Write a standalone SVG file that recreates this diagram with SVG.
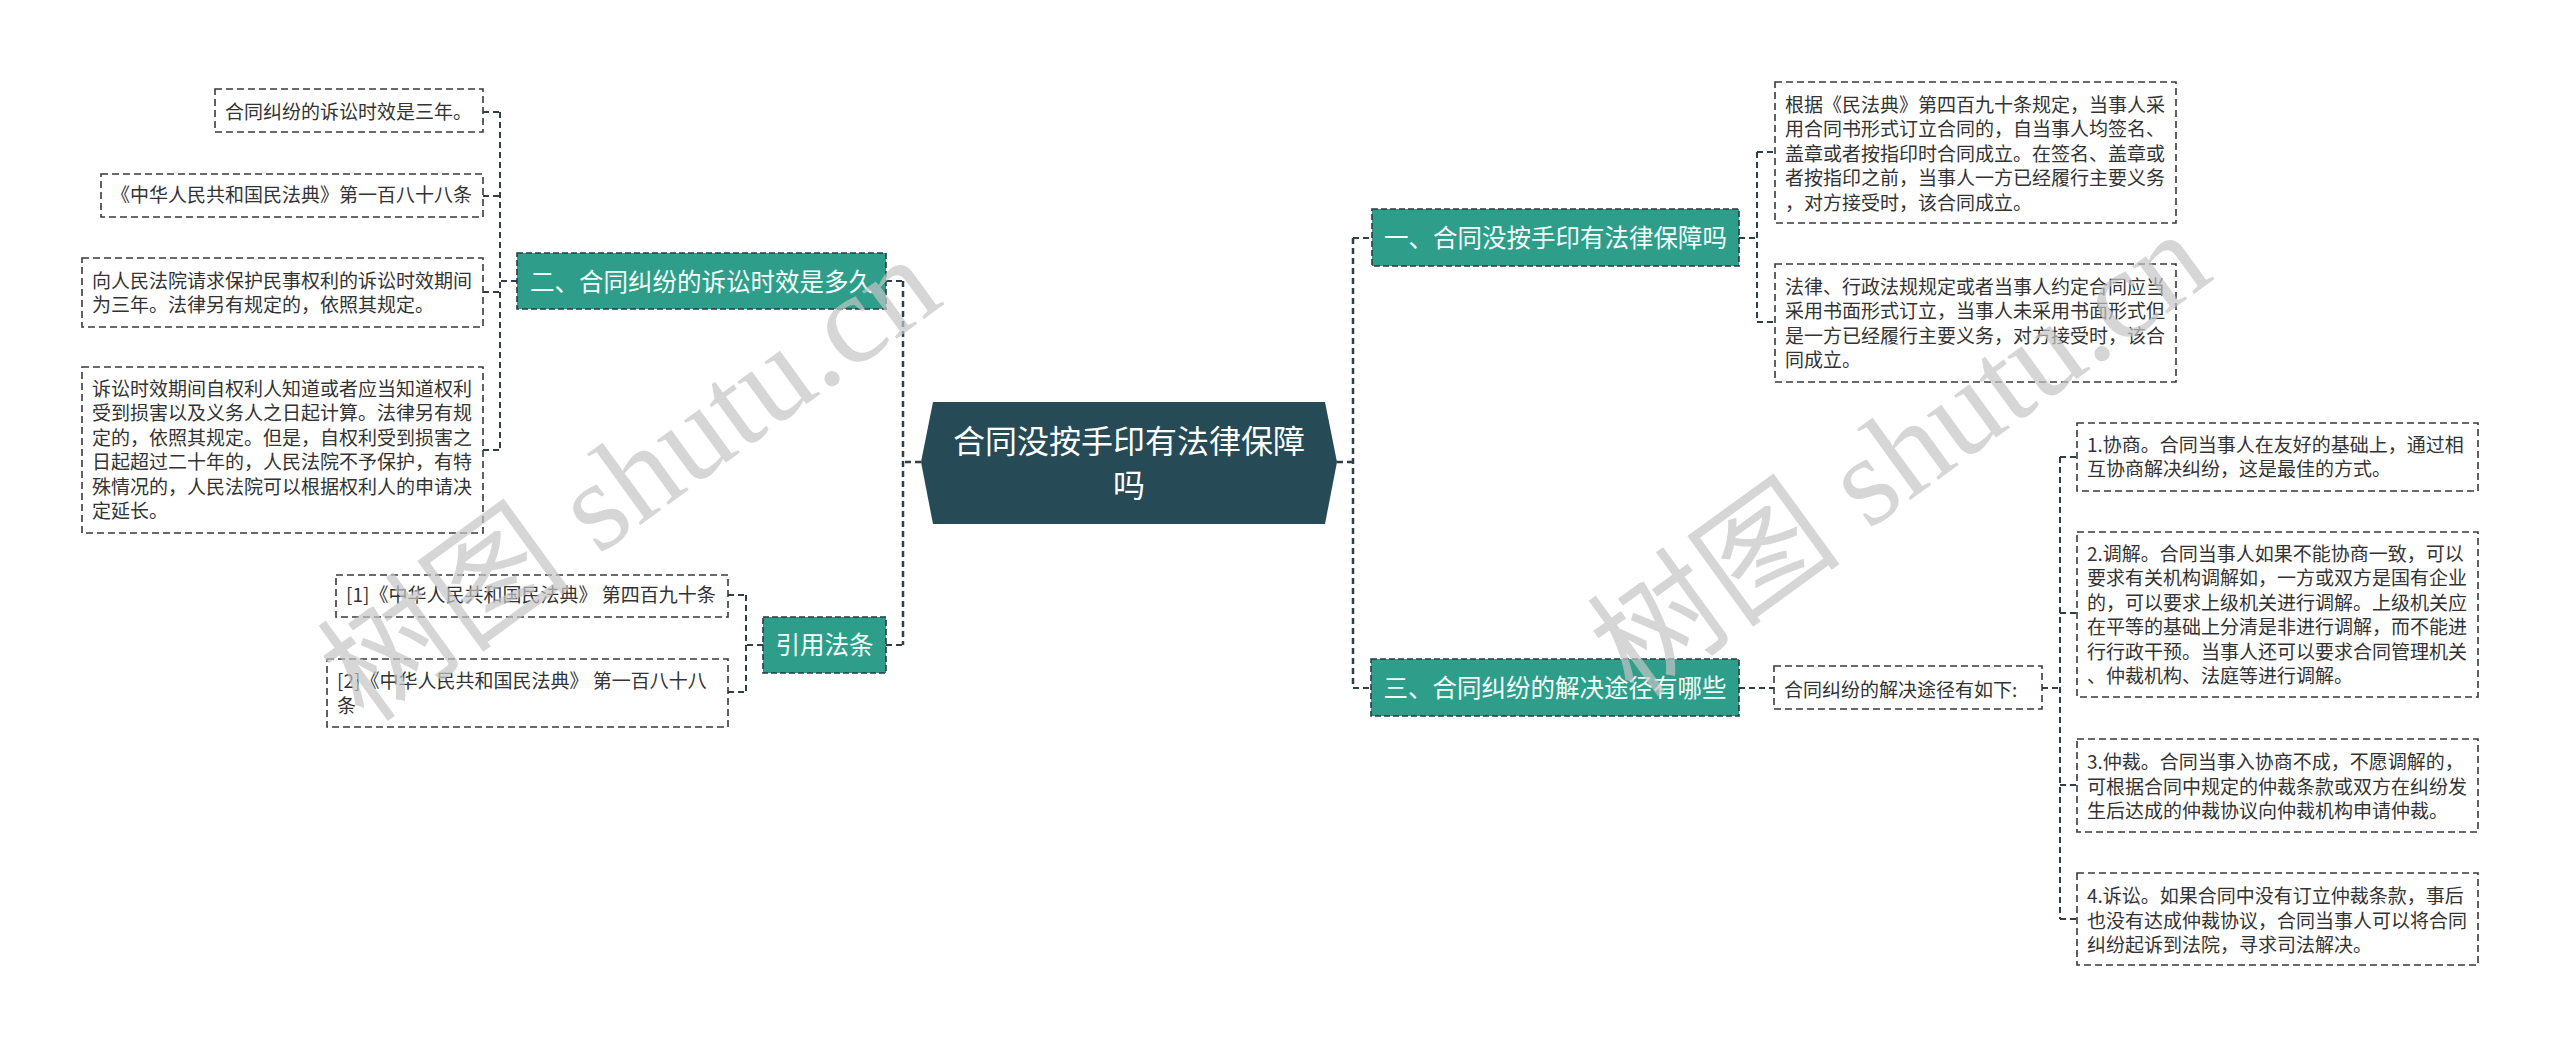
<svg xmlns="http://www.w3.org/2000/svg" width="2560" height="1047" viewBox="0 0 2560 1047">
<style>
.bg{fill:#ffffff}
.conn{fill:none;stroke:#2e3f47;stroke-width:2;stroke-dasharray:6 4}
.trunk{fill:none;stroke:#2e3f47;stroke-width:2.5;stroke-dasharray:6 4}
.leaf{fill:#ffffff;stroke:#3a3a3a;stroke-width:1.6;stroke-dasharray:7 4}
.branch{fill:#2e9e8a;stroke:#2b3a40;stroke-width:1.6;stroke-dasharray:6 3}
.center{fill:#274a57}
.lt{font-family:"Noto Sans CJK SC","Noto Sans",sans-serif;font-size:19px;fill:#333333}
.bt{font-family:"Noto Sans CJK SC","Noto Sans",sans-serif;font-size:24.5px;fill:#f4fffb;text-anchor:middle}
.ct{font-family:"Noto Sans CJK SC","Noto Sans",sans-serif;font-size:32px;fill:#ffffff;text-anchor:middle}
.wm{font-family:"Liberation Serif","Noto Sans CJK SC",serif;font-size:128px;fill:#c4c4c4;fill-opacity:0.7}
</style>
<rect class="bg" x="0" y="0" width="2560" height="1047"/>

<g id="connectors">
  <path class="trunk" d="M921 462 H903 M903 281 V645"/>
  <path class="conn" d="M886 281 H903 M886 645 H903"/>
  <path class="conn" d="M517 281 H500 M500 112 V450 M483 112 H500 M483 196 H500 M483 292 H500 M483 450 H500"/>
  <path class="conn" d="M763 645 H746 M746 595 V692 M728 595 H746 M728 692 H746"/>
  <path class="trunk" d="M1337 462 H1353 M1353 238 V688"/>
  <path class="conn" d="M1353 238 H1372 M1353 688 H1371"/>
  <path class="conn" d="M1739 238 H1757 M1757 152 V322 M1757 152 H1775 M1757 322 H1775"/>
  <path class="conn" d="M1739 688 H1774 M2042 688 H2060 M2060 457 V919 M2060 457 H2077 M2060 613 H2077 M2060 785 H2077 M2060 919 H2077"/>
</g>

<g id="center">
  <polygon class="center" points="921,462 933,402 1325,402 1337,462 1325,524 933,524"/>
  <text class="ct" x="1129" y="453">合同没按手印有法律保障</text>
  <text class="ct" x="1129" y="497">吗</text>
</g>

<g id="branch2">
  <rect class="branch" x="517" y="253" width="369" height="56"/>
  <text class="bt" x="701.5" y="291">二、合同纠纷的诉讼时效是多久</text>
</g>
<g id="leaf-b2-1">
  <rect class="leaf" x="215" y="89" width="268" height="43"/>
  <text class="lt" x="225" y="119">合同纠纷的诉讼时效是三年。</text>
</g>
<g id="leaf-b2-2">
  <rect class="leaf" x="101" y="174" width="382" height="43"/>
  <text class="lt" x="111" y="202">《中华人民共和国民法典》第一百八十八条</text>
</g>
<g id="leaf-b2-3">
  <rect class="leaf" x="82" y="258" width="401" height="69"/>
  <text class="lt"><tspan x="92" y="288">向人民法院请求保护民事权利的诉讼时效期间</tspan><tspan x="92" y="312">为三年。法律另有规定的，依照其规定。</tspan></text>
</g>
<g id="leaf-b2-4">
  <rect class="leaf" x="82" y="367" width="401" height="166"/>
  <text class="lt"><tspan x="92" y="396">诉讼时效期间自权利人知道或者应当知道权利</tspan><tspan x="92" y="420.4">受到损害以及义务人之日起计算。法律另有规</tspan><tspan x="92" y="444.8">定的，依照其规定。但是，自权利受到损害之</tspan><tspan x="92" y="469.2">日起超过二十年的，人民法院不予保护，有特</tspan><tspan x="92" y="493.6">殊情况的，人民法院可以根据权利人的申请决</tspan><tspan x="92" y="518">定延长。</tspan></text>
</g>

<g id="citations">
  <rect class="branch" x="763" y="617" width="123" height="56"/>
  <text class="bt" x="824.5" y="654">引用法条</text>
</g>
<g id="cite-1">
  <rect class="leaf" x="336" y="575" width="392" height="42"/>
  <text class="lt" x="346" y="602">[1]《中华人民共和国民法典》 第四百九十条</text>
</g>
<g id="cite-2">
  <rect class="leaf" x="327" y="659" width="401" height="68"/>
  <text class="lt"><tspan x="337" y="688">[2]《中华人民共和国民法典》 第一百八十八</tspan><tspan x="337" y="712.5">条</tspan></text>
</g>

<g id="branch1">
  <rect class="branch" x="1372" y="209" width="367" height="57"/>
  <text class="bt" x="1555.5" y="247">一、合同没按手印有法律保障吗</text>
</g>
<g id="leaf-b1-1">
  <rect class="leaf" x="1775" y="82" width="401" height="141"/>
  <text class="lt"><tspan x="1785" y="111.5">根据《民法典》第四百九十条规定，当事人采</tspan><tspan x="1785" y="136">用合同书形式订立合同的，自当事人均签名、</tspan><tspan x="1785" y="160.5">盖章或者按指印时合同成立。在签名、盖章或</tspan><tspan x="1785" y="185">者按指印之前，当事人一方已经履行主要义务</tspan><tspan x="1785" y="209.5">，对方接受时，该合同成立。</tspan></text>
</g>
<g id="leaf-b1-2">
  <rect class="leaf" x="1775" y="264" width="401" height="118"/>
  <text class="lt"><tspan x="1785" y="293.5">法律、行政法规规定或者当事人约定合同应当</tspan><tspan x="1785" y="318">采用书面形式订立，当事人未采用书面形式但</tspan><tspan x="1785" y="342.5">是一方已经履行主要义务，对方接受时，该合</tspan><tspan x="1785" y="367">同成立。</tspan></text>
</g>

<g id="branch3">
  <rect class="branch" x="1371" y="659" width="368" height="57"/>
  <text class="bt" x="1555" y="697">三、合同纠纷的解决途径有哪些</text>
</g>
<g id="leaf-b3-0">
  <rect class="leaf" x="1774" y="666" width="268" height="43"/>
  <text class="lt" x="1784" y="696.5">合同纠纷的解决途径有如下:</text>
</g>
<g id="leaf-b3-1">
  <rect class="leaf" x="2077" y="423" width="401" height="68"/>
  <text class="lt"><tspan x="2087" y="451.7">1.协商。合同当事人在友好的基础上，通过相</tspan><tspan x="2087" y="476.2">互协商解决纠纷，这是最佳的方式。</tspan></text>
</g>
<g id="leaf-b3-2">
  <rect class="leaf" x="2077" y="532" width="401" height="165"/>
  <text class="lt"><tspan x="2087" y="560.7">2.调解。合同当事人如果不能协商一致，可以</tspan><tspan x="2087" y="585.2">要求有关机构调解如，一方或双方是国有企业</tspan><tspan x="2087" y="609.7">的，可以要求上级机关进行调解。上级机关应</tspan><tspan x="2087" y="634.2">在平等的基础上分清是非进行调解，而不能进</tspan><tspan x="2087" y="658.7">行行政干预。当事人还可以要求合同管理机关</tspan><tspan x="2087" y="683.2">、仲裁机构、法庭等进行调解。</tspan></text>
</g>
<g id="leaf-b3-3">
  <rect class="leaf" x="2077" y="739" width="401" height="93"/>
  <text class="lt"><tspan x="2087" y="769.4">3.仲裁。合同当事入协商不成，不愿调解的，</tspan><tspan x="2087" y="793.6">可根据合同中规定的仲裁条款或双方在纠纷发</tspan><tspan x="2087" y="817.8">生后达成的仲裁协议向仲裁机构申请仲裁。</tspan></text>
</g>
<g id="leaf-b3-4">
  <rect class="leaf" x="2077" y="873" width="401" height="92"/>
  <text class="lt"><tspan x="2087" y="903.4">4.诉讼。如果合同中没有订立仲裁条款，事后</tspan><tspan x="2087" y="927.9">也没有达成仲裁协议，合同当事人可以将合同</tspan><tspan x="2087" y="952.4">纠纷起诉到法院，寻求司法解决。</tspan></text>
</g>

<g id="watermarks">
  <text class="wm" transform="translate(365 725) rotate(-36)">树图 shutu.cn</text>
  <text class="wm" transform="translate(1635 700) rotate(-36)">树图 shutu.cn</text>
</g>
</svg>
